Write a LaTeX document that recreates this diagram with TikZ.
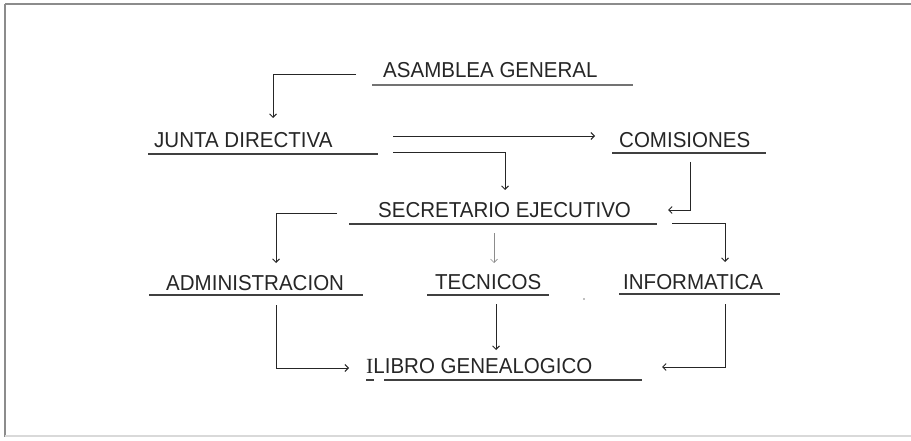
\documentclass[tikz,border=0pt]{standalone}
\usepackage{fontspec}
\setmainfont{Liberation Sans}[FakeStretch=0.95]
\newfontfamily\serifI{Liberation Serif}
\usetikzlibrary{arrows.meta}
\begin{document}
\begin{tikzpicture}[x=1pt,y=-1pt,
  lbl/.style={anchor=base west,inner sep=0pt,font=\fontsize{21.6}{25}\selectfont,text=black!85},
  uline/.style={draw=black!75,line width=1.2pt},
  conn/.style={draw=black!85,line width=0.9pt,-{Straight Barb[length=3.5pt,width=7pt]}},
  frame/.style={draw=black!45,line width=1.3pt}]
\useasboundingbox (0,0) rectangle (911,441);
\fill[white] (0,0) rectangle (911,441);
% frame
\draw[frame] (5,4) -- (911,4);
\draw[frame] (5,4) -- (5,437);
\draw[draw=black!15,line width=1.2pt] (5,436) -- (911,436);
% nodes
\node[lbl] (ag) at (383,78) {ASAMBLEA GENERAL};
\node[lbl] (jd) at (154,148) {JUNTA DIRECTIVA};
\node[lbl] (com) at (619,148) {COMISIONES};
\node[lbl] (se) at (378,218) {SECRETARIO EJECUTIVO};
\node[lbl] (adm) at (166,290) {ADMINISTRACION};
\node[lbl] (tec) at (435,289) {TECNICOS};
\node[lbl] (inf) at (623,289) {INFORMATICA};
\node[lbl] (lib) at (366,373) {{\serifI I}LIBRO GENEALOGICO};
% underlines
\draw[uline,draw=black!55] (372,85) -- (633,85);
\draw[uline] (148,154) -- (378,154);
\draw[uline] (612,153) -- (766,153);
\draw[uline] (349,224) -- (657,224);
\draw[uline] (149,295) -- (363,295);
\draw[uline] (427,295) -- (549,295);
\draw[uline] (619,294) -- (780,294);
\draw[uline] (366,380) -- (374,380);
\draw[uline] (384,380) -- (642,380);
% connector end points
\coordinate (ag1) at (356,74);
\coordinate (ag2) at (273,118);
\coordinate (jc1) at (393,136);
\coordinate (jc2) at (595,136);
\coordinate (js1) at (393,152);
\coordinate (js2) at (505,190);
\coordinate (cs1) at (690,162);
\coordinate (cs2) at (668,210);
\coordinate (sa1) at (337,213);
\coordinate (sa2) at (276,263);
\coordinate (st1) at (494,233);
\coordinate (st2) at (494,263);
\coordinate (si1) at (672,223);
\coordinate (si2) at (725,262);
\coordinate (al1) at (276,305);
\coordinate (al2) at (349,368);
\coordinate (tl1) at (496,304);
\coordinate (tl2) at (496,350);
\coordinate (il1) at (725,304);
\coordinate (il2) at (662,367);
% connectors
\draw[conn] (ag1) -| (ag2);
\draw[conn] (jc1) -- (jc2);
\draw[conn] (js1) -| (js2);
\draw[conn] (cs1) |- (cs2);
\draw[conn] (sa1) -| (sa2);
\draw[conn,draw=black!45,line width=0.7pt] (st1) -- (st2);
\draw[conn] (si1) -| (si2);
\draw[conn] (al1) |- (al2);
\draw[conn] (tl1) -- (tl2);
\draw[conn] (il1) |- (il2);
% stray dot
\fill[black!50] (584,299) circle (0.9);
\end{tikzpicture}
\end{document}
